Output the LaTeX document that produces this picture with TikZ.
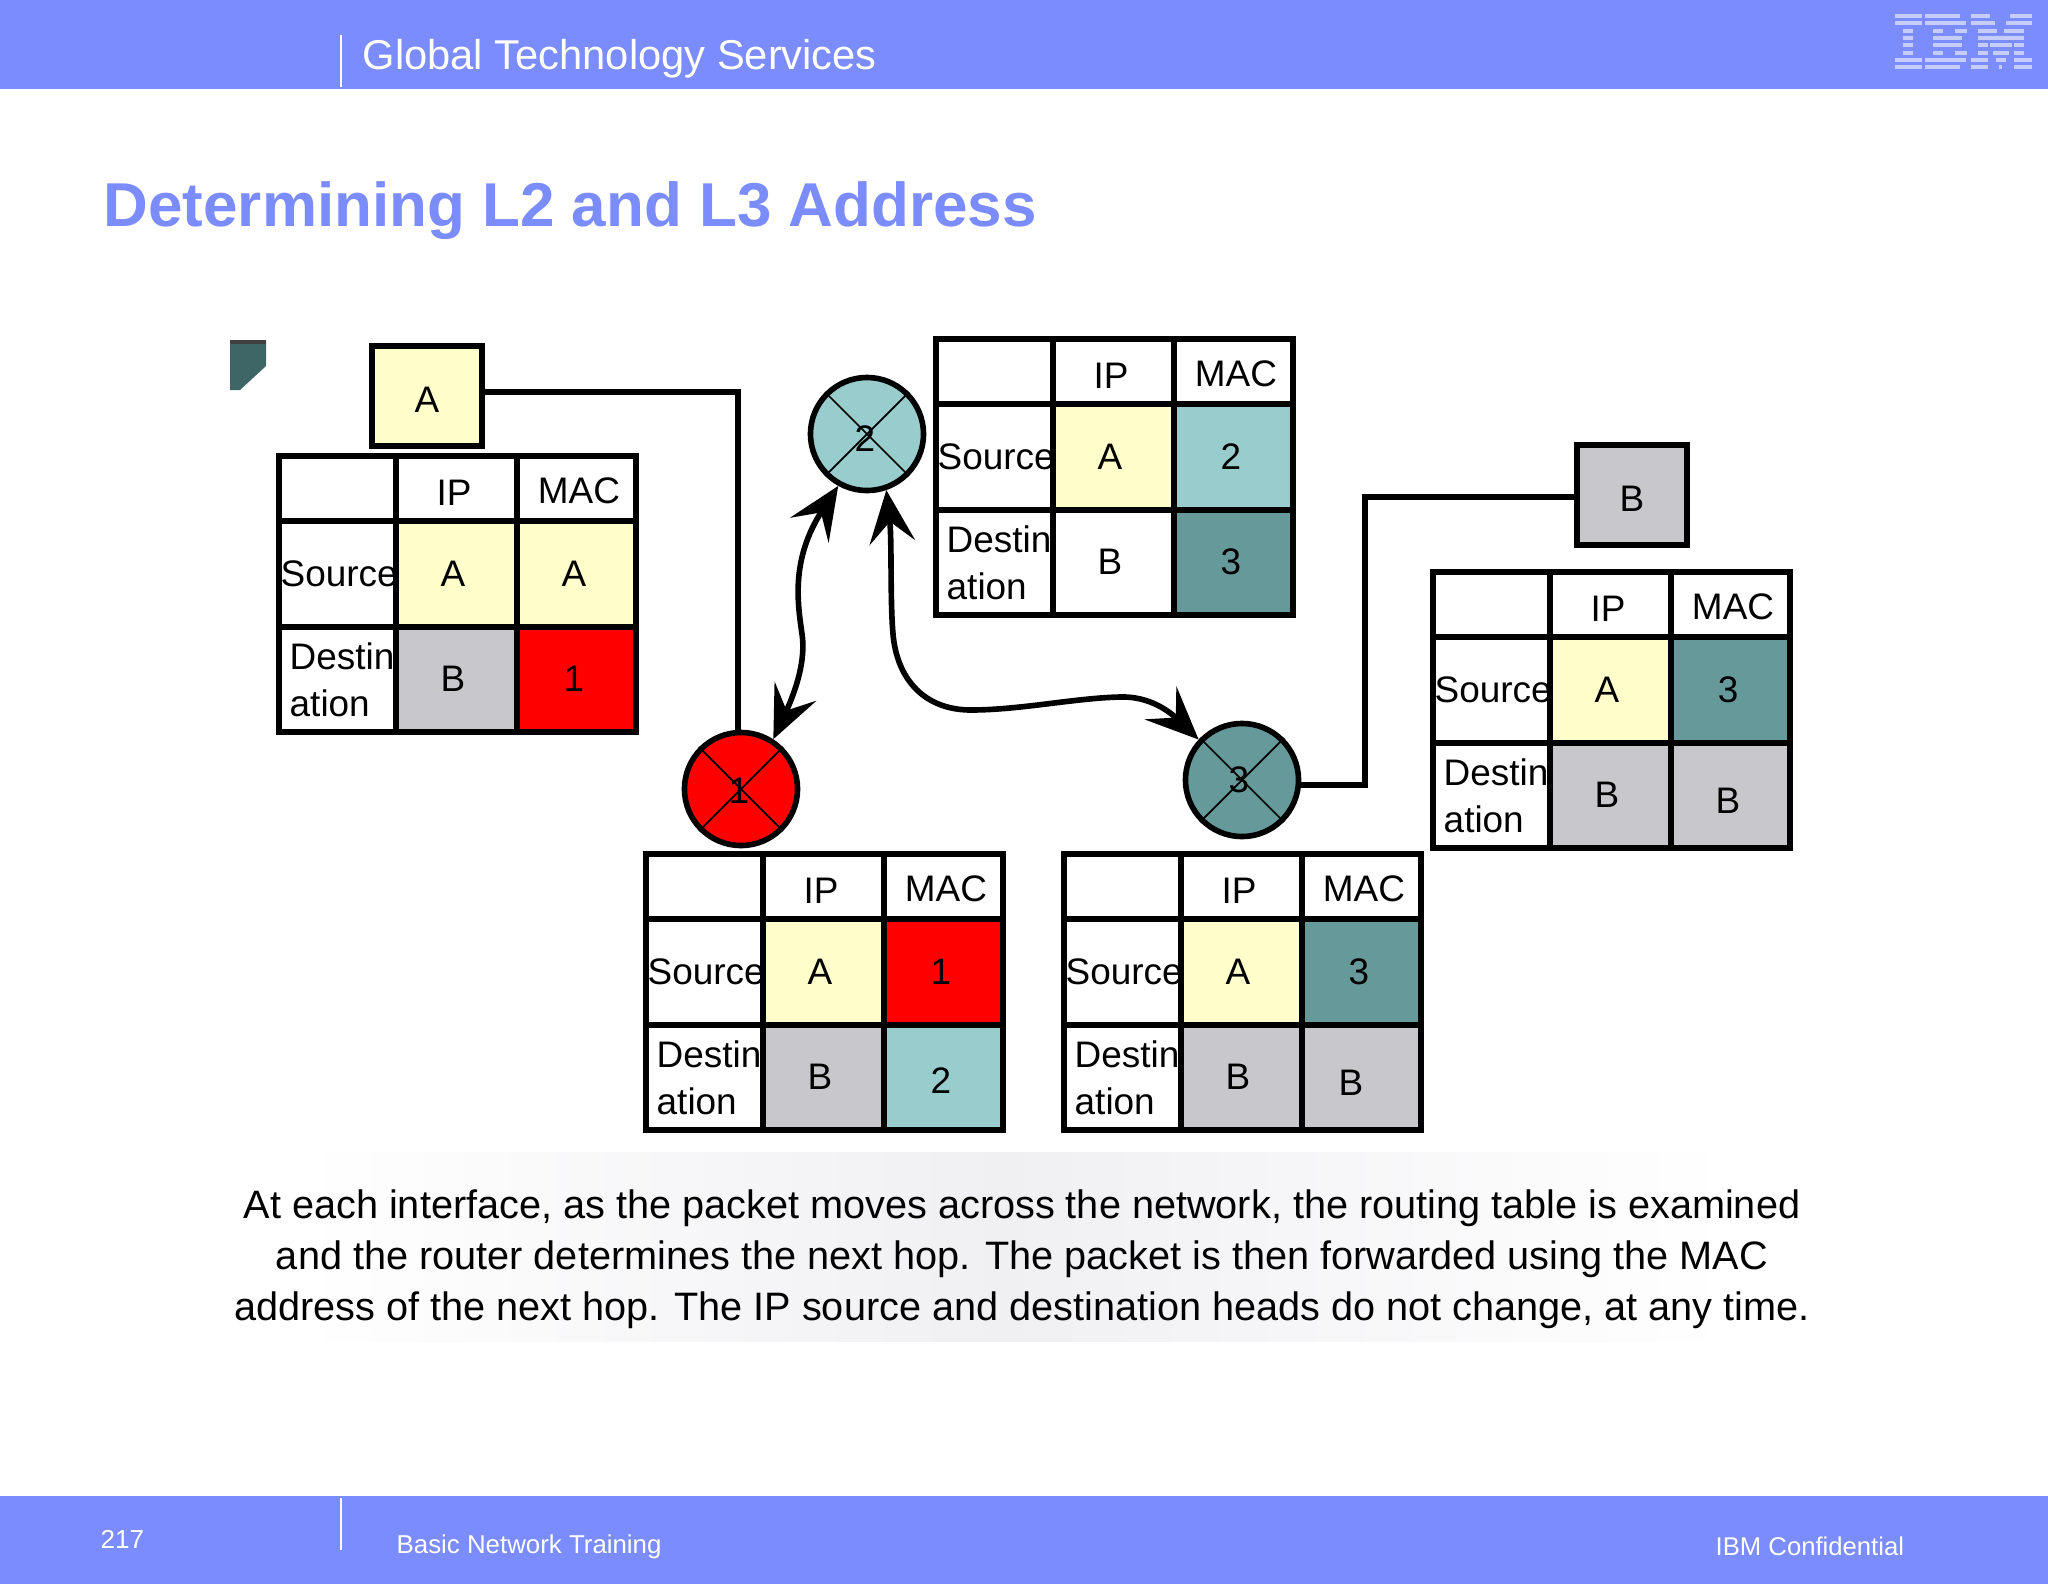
\documentclass[tikz,border=0pt]{standalone}
\usepackage{fontspec}
\setmainfont{Liberation Sans}
\usetikzlibrary{arrows.meta}
\definecolor{band}{HTML}{7B8CFF}
\definecolor{logotint}{HTML}{C6CDFB}
\definecolor{cream}{HTML}{FFFFCC}
\definecolor{greycell}{HTML}{C8C7CB}
\definecolor{redcell}{HTML}{FF0000}
\definecolor{lightteal}{HTML}{99CCCC}
\definecolor{darkteal}{HTML}{669999}
\definecolor{chip}{HTML}{3F6666}
\definecolor{haze}{HTML}{F0F0F3}
\tikzset{
  cell/.style={draw=black, line width=1.6pt, anchor=north west, inner sep=0pt},
  celltext/.style={anchor=base, inner sep=0pt, font=\fontsize{10.5}{12}\selectfont},
  lefttext/.style={anchor=base west, inner sep=0pt, font=\fontsize{10.5}{12}\selectfont},
  hostbox/.style={draw=black, line width=1.6pt, minimum width=1.10cm, minimum height=1.00cm, inner sep=0pt, text height=9.2pt, text depth=0pt, font=\fontsize{10.5}{12}\selectfont},
  router/.style={draw=black, line width=1.6pt, circle, minimum size=1.13cm, inner sep=0pt},
  link/.style={draw=black, line width=1.5pt},
  hop/.style={draw=black, line width=1.6pt, {Stealth[length=15pt,width=13pt,inset=6pt]}-{Stealth[length=15pt,width=13pt,inset=6pt]}},
  bandtext/.style={anchor=base west, inner sep=0pt, text=white}
}
\begin{document}
\begin{tikzpicture}[x=0.01cm, y=-0.01cm]
  \useasboundingbox (0,0) rectangle (2048,1584);
  % header and footer
  \fill[band] (0,0) rectangle (2048,89);
  \fill[band] (0,1496) rectangle (2048,1584);
  \draw[white, line width=0.5pt] (341,35) -- (341,87);
  \draw[white, line width=0.5pt] (341,1498) -- (341,1550);
  \node[bandtext, font=\fontsize{11.85}{14}\selectfont] (headtitle) at (362,69) {Global Technology Services};
  \node[anchor=base west, inner sep=0pt, text=band, font=\fontsize{17.62}{20}\bfseries\selectfont] (slidetitle) at (103,226) {Determining L2 and L3 Address};
  \node[bandtext, font=\fontsize{7.4}{9}\selectfont] (pageno) at (100,1548) {217};
  \node[bandtext, font=\fontsize{7.35}{9}\selectfont] (course) at (396,1553) {Basic Network Training};
  \node[bandtext, font=\fontsize{7.3}{9}\selectfont] (confid) at (1715,1555) {IBM Confidential};
  % logo stripes
  \foreach \Y/\segs in {
    16/{1895/1922,1925/1960,1971/1990,2010/2032},
    23/{1895/1922,1925/1966,1971/1995,2006/2032},
    31/{1903/1913,1933/1943,1955/1967,1978/1997,2004/2024},
    38/{1903/1913,1933/1962,1978/2024},
    45/{1903/1913,1933/1962,1978/1988,1990/2012,2014/2024},
    53/{1903/1913,1933/1943,1955/1967,1978/1988,1993/2009,2014/2024},
    60/{1895/1922,1925/1966,1971/1988,1996/2006,2014/2032},
    67/{1895/1922,1925/1960,1971/1988,1999/2002,2014/2032}} {
    \foreach \a/\b in \segs {
      \fill[logotint] (\a,\Y-2.3) rectangle (\b,\Y+2.3);
    }
  }
  % corner scrap
  \fill[chip] (230,340) -- (266,340) -- (266,366) -- (240,390) -- (230,390) -- cycle;
  \fill[black!75] (230,340) rectangle (266,344);
  % caption
  \shade[left color=white, right color=haze] (300,1152) rectangle (1000,1341);
  \shade[left color=haze, right color=white] (1000,1152) rectangle (1730,1341);
  \node[align=center, inner sep=0pt, font=\fontsize{11.28}{14.5}\selectfont] (caption) at (1022,1259) {At each interface, as the packet moves across the network, the routing table is examined\\
    and the router determines the next hop. The packet is then forwarded using the MAC\\
    address of the next hop. The IP source and destination heads do not change, at any time.};
  % tables
  \foreach \T/\X/\Y/\Sip/\Smac/\Cm/\Dip/\Cd/\Dmac/\Ce/\Nx/\Ny in {
    tabA/276/453/A/A/cream/B/greycell/1/redcell/0/0,
    tabB/933/336/A/2/lightteal/B/white/3/darkteal/0/0,
    tabC/1430/569/A/3/darkteal/B/greycell/B/greycell/0/6,
    tabD/643/851/A/1/redcell/B/greycell/2/lightteal/0/4,
    tabE/1061/851/A/3/darkteal/B/greycell/B/greycell/-8/6} {
    \begin{scope}[shift={(\X,\Y)}]
      \node[cell, minimum width=1.17cm, minimum height=0.65cm] (\T-a) at (0,0) {};
      \node[cell, minimum width=1.21cm, minimum height=0.65cm] (\T-b) at (117,0) {};
      \node[cell, minimum width=1.19cm, minimum height=0.65cm] (\T-c) at (238,0) {};
      \node[cell, minimum width=1.17cm, minimum height=1.06cm] (\T-d) at (0,65) {};
      \node[cell, minimum width=1.21cm, minimum height=1.06cm, fill=cream] (\T-e) at (117,65) {};
      \node[cell, minimum width=1.19cm, minimum height=1.06cm, fill=\Cm] (\T-f) at (238,65) {};
      \node[cell, minimum width=1.17cm, minimum height=1.05cm] (\T-g) at (0,171) {};
      \node[cell, minimum width=1.21cm, minimum height=1.05cm, fill=\Cd] (\T-h) at (117,171) {};
      \node[cell, minimum width=1.19cm, minimum height=1.05cm, fill=\Ce] (\T-i) at (238,171) {};
      \node[celltext] (\T-ip) at (178,52) {IP};
      \node[celltext] (\T-mac) at (303,50) {MAC};
      \node[lefttext] (\T-src) at (4,133) {Source};
      \node[lefttext] (\T-dsta) at (13,216) {Destin};
      \node[lefttext] (\T-dstb) at (13,263) {ation};
      \node[celltext] (\T-sip) at (177,133) {\Sip};
      \node[celltext] (\T-smac) at (298,133) {\Smac};
      \node[celltext] (\T-dip) at (177,238) {\Dip};
      \node[celltext] (\T-dmac) at (298+\Nx,238+\Ny) {\Dmac};
    \end{scope}
  }
  % hosts and routers
  \node[hostbox, fill=cream] (hostA) at (427,396) {A};
  \node[hostbox, fill=greycell] (hostB) at (1632,495) {B};
  \foreach \R/\X/\Y/\C/\L/\Lx/\Ly in {rtA/741/789/redcell/1/-2/2, rtB/867/434/lightteal/2/-2/5, rtC/1242/780/darkteal/3/-3/0} {
    \node[router, fill=\C] (\R) at (\X,\Y) {};
    \draw[black, line width=0.5pt] (\R.45) -- (\R.225);
    \draw[black, line width=0.5pt] (\R.135) -- (\R.315);
    \node[inner sep=0pt, font=\fontsize{10.5}{12}\selectfont] (\R-num) at (\X+\Lx,\Y+\Ly) {\L};
  }
  % connectors
  \coordinate (turnA) at (738,392);
  \coordinate (turnB) at (1365,497);
  \coordinate (turnC) at (1365,785);
  \draw[link] (hostA.east |- turnA) -- (turnA) -- (turnA |- rtA.north);
  \draw[link] (hostB.west |- turnB) -- (turnB) -- (turnC) -- (rtC.east |- turnC);
  \draw[hop] (rtA.57) .. controls (796,690) and (806,660) .. (802,634)
    .. controls (798,605) and (790,560) .. (rtB.241);
  \draw[hop] (rtB.289) .. controls (892,540) and (890,600) .. (893,634)
    .. controls (897,680) and (925,710) .. (971,710)
    .. controls (1020,710) and (1075,698) .. (1120,697)
    .. controls (1150,696) and (1170,712) .. (rtC.137);
\end{tikzpicture}
\end{document}
